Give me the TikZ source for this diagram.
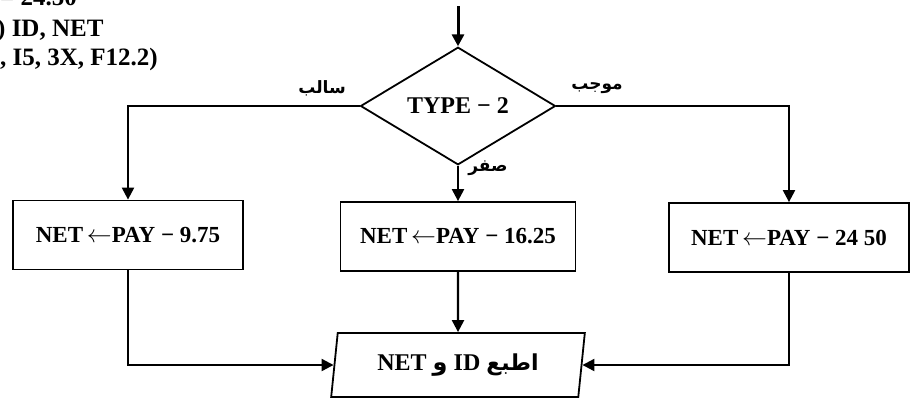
\documentclass[tikz,border=0pt]{standalone}
\usepackage{fontspec}
\setmainfont{Liberation Serif}
\newfontfamily\arabicfont[Script=Arabic]{DejaVu Sans}
\TeXXeTstate=1
\usetikzlibrary{shapes.geometric,arrows.meta}
\begin{document}
\begin{tikzpicture}[x=1pt,y=-1pt,
  conn/.style={line width=2.2pt, line join=miter},
  arr/.style={conn, -{Triangle[length=12pt,width=12pt]}},
  procbox/.style={draw, line width=1.8pt, minimum width=#1, minimum height=69pt, inner sep=0pt,
    font=\fontsize{23}{25}\selectfont\bfseries},
  decbox/.style={draw, diamond, line width=1.8pt, minimum width=195pt, minimum height=99pt, inner sep=0pt,
    font=\fontsize{24}{26}\selectfont\bfseries},
  iobox/.style={draw, trapezium, trapezium left angle=79, trapezium right angle=101, trapezium stretches=true,
    line width=1.8pt, minimum width=254pt, minimum height=64pt, inner sep=0pt,
    font=\fontsize{24}{26}\selectfont\bfseries},
  lbl/.style={font=\arabicfont\fontsize{17}{20}\selectfont\bfseries, inner sep=0pt},
  code/.style={font=\fontsize{25}{28}\selectfont\bfseries, inner sep=0pt, anchor=base west}
]
\useasboundingbox (0,0) rectangle (913,400);

% cut-off program text at top left
\node[code] (c1) at (0,5) {= 24.50};
\node[code] (c2) at (-3,36) {) ID, NET};
\node[code] (c3) at (0,65) {, I5, 3X, F12.2)};

\coordinate (start) at (458,6);
\node[decbox] (dia) at (458,106) {TYPE − 2};
\node[procbox=230pt] (lbox) at (128,235) {NET\,$\leftarrow$PAY − 9.75};
\node[procbox=235pt] (mbox) at (458,236.5) {NET\,$\leftarrow$PAY − 16.25};
\node[procbox=240pt] (rbox) at (789,237.5) {NET\,$\leftarrow$PAY − 24 50};
\node[iobox] (out) at (458,365) {\beginR{\arabicfont\fontsize{22}{24}\selectfont اطبع} \beginL ID\endL{} {\arabicfont و} \beginL NET\endL\endR};

\draw[arr, line width=3pt] (start) -- (dia.north);
\draw[arr] (dia.west) -| (lbox.north);
\draw[arr] (dia.east) -| (rbox.north);
\draw[arr] (dia.south) -- (mbox.north);
\draw[arr] (mbox.south) -- (out.north);
\draw[arr] (lbox.south) |- (out);
\draw[arr] (rbox.south) |- (out);

\node[lbl] (neg) at (322,88) {\beginR سالب\endR};
\node[lbl] (pos) at (597,88) {\beginR موجب\endR};
\node[lbl] (zero) at (488,168) {\beginR صفر\endR};
\end{tikzpicture}
\end{document}
